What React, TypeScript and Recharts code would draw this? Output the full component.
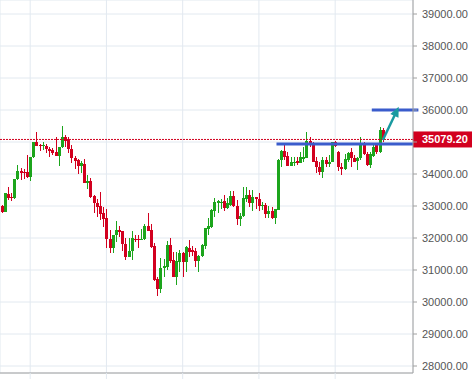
import { ComposedChart, Bar, XAxis, YAxis, CartesianGrid, ReferenceLine } from 'recharts'

const opens = [
  33000, 32820, 33380, 33290, 33240, 33830, 34090, 34070, 34070, 33900,
  34520, 35000, 34920, 34880, 34880, 34780, 34750, 34680, 34570, 34830,
  35150, 35070, 34770, 34500, 34440, 34260, 34320, 33730, 33780, 33310,
  33080, 33000, 32790, 32630, 31980, 31680, 32090, 32250, 32220, 31800,
  31420, 31580, 31970, 31970, 31940, 31970, 32370, 32250, 31750, 30720,
  30410, 31060, 31100, 31780, 31310, 30790, 31260, 31520, 31260, 31700,
  31630, 31590, 31290, 31440, 31750, 32280, 32350, 32850, 33090, 33100,
  33160, 32930, 33030, 33310, 33010, 32580, 32700, 33220, 33340, 33100,
  33270, 33210, 33000, 33030, 32740, 32850, 32610, 32880, 34440, 34730,
  34560, 34260, 34350, 34410, 34350, 34460, 34510, 35030, 34930, 34410,
  34230, 34050, 34440, 34300, 34380, 35010, 34680, 34230, 34160, 34440,
  34700, 34510, 34400, 34490, 34960, 34620, 34280, 34560, 34910, 34700,
  35380,
]
const highs = [
  33030, 33420, 33590, 33400, 33850, 34280, 34180, 34150, 34590, 34540,
  35010, 35310, 34940, 35000, 34940, 34850, 34820, 35150, 34840, 35500,
  35220, 35170, 34910, 34560, 34460, 34420, 34470, 33970, 33870, 33340,
  33210, 33450, 32980, 32910, 32250, 32100, 32530, 32380, 32230, 31990,
  31990, 32220, 32090, 32090, 32280, 32440, 32770, 32440, 31850, 30790,
  31370, 31330, 31910, 31990, 31570, 31570, 31630, 31570, 31750, 31940,
  31750, 31680, 31470, 31810, 32300, 32610, 32900, 33240, 33190, 33210,
  33340, 33240, 33470, 33470, 33190, 32770, 33600, 33600, 33500, 33500,
  33290, 33420, 33130, 33080, 33000, 32960, 32900, 34470, 34750, 34980,
  34700, 34540, 34520, 34540, 34700, 34850, 35300, 35170, 35010, 34540,
  34380, 34540, 34540, 34590, 35010, 35030, 34720, 34330, 34620, 34700,
  34800, 34590, 34540, 35170, 35010, 34700, 34700, 34960, 34930, 35480,
  35450,
]
const lows = [
  32790, 32800, 33190, 33170, 33230, 33820, 33810, 33840, 33870, 33790,
  34500, 34870, 34720, 34750, 34670, 34540, 34590, 34560, 34260, 34820,
  34850, 34650, 34350, 34150, 33990, 34020, 33720, 33530, 33240, 32790,
  32670, 32560, 32350, 31680, 31520, 31520, 31880, 32040, 31590, 31310,
  31410, 31310, 31880, 31700, 31930, 31940, 32220, 31680, 30660, 30200,
  30270, 30790, 31000, 31210, 30770, 30530, 30950, 30790, 30950, 31420,
  31440, 31100, 30950, 31400, 31660, 32090, 32300, 32670, 32790, 32900,
  32850, 32900, 33000, 32960, 32410, 32370, 32670, 33130, 32980, 32850,
  32900, 32850, 32880, 32610, 32610, 32580, 32430, 32860, 34230, 34440,
  34240, 34250, 34260, 34280, 34340, 34380, 34490, 34850, 34370, 34020,
  33970, 33880, 34230, 34230, 34370, 34850, 34090, 33970, 34130, 34390,
  34230, 34370, 34130, 34440, 34590, 34260, 34180, 34540, 34620, 34650,
  35010,
]
const closes = [
  32820, 33400, 33260, 33240, 33830, 34090, 34040, 34040, 33900, 34520,
  35000, 34890, 34860, 34910, 34770, 34730, 34670, 34570, 34830, 35150,
  35040, 34770, 34490, 34420, 34260, 34350, 33730, 33780, 33290, 33080,
  32980, 32750, 32590, 31960, 31680, 32090, 32260, 32200, 31800, 31420,
  31590, 31990, 31940, 31940, 31970, 32370, 32230, 31730, 30690, 30410,
  31070, 31120, 31780, 31290, 30790, 31290, 31520, 31260, 31710, 31570,
  31570, 31290, 31440, 31780, 32300, 32370, 32880, 33110, 33160, 33140,
  32930, 33100, 33310, 33010, 32580, 32700, 33240, 33340, 33100, 33270,
  33210, 33000, 33030, 32740, 32840, 32610, 32900, 34440, 34730, 34540,
  34260, 34380, 34380, 34330, 34520, 34520, 35030, 34930, 34380, 34210,
  34050, 34440, 34300, 34380, 34990, 34880, 34210, 34160, 34470, 34650,
  34490, 34380, 34510, 34960, 34620, 34280, 34620, 34850, 34700, 35380,
  35079.2,
]

const SLOTS = 130
const yTicks = [28000, 29000, 30000, 31000, 32000, 33000, 34000, 35000, 36000, 37000, 38000, 39000]
const xGridTicks = [9, 33, 57, 81, 105]
const lastPrice = 35079.2
const supportLevel = 34940
const targetLevel = 36000

const GREEN = '#1ca51c'
const RED = '#d2001f'
const BLUE = '#3a5ccc'
const TEAL = '#1a9aa0'
const GRID = '#e2e9f0'
const FONT = '"Liberation Sans", Arial, sans-serif'

const rows = Array.from({ length: SLOTS }, (_, i) =>
  i < opens.length
    ? { i, o: opens[i], h: highs[i], l: lows[i], c: closes[i] }
    : { i, o: null, h: null, l: null, c: null }
)

const Candle = (props: any) => {
  const { x, y, width, height, payload } = props
  if (payload == null || payload.h == null) return <g />
  const top = Math.min(y, y + height)
  const span = Math.abs(height)
  const k = payload.h === payload.l ? 0 : span / (payload.h - payload.l)
  const yO = top + (payload.h - payload.o) * k
  const yC = top + (payload.h - payload.c) * k
  const color = payload.c >= payload.o ? GREEN : RED
  const px = Math.round(x + width / 2)
  return (
    <g shapeRendering="crispEdges">
      <line x1={px + 0.5} x2={px + 0.5} y1={top} y2={top + span} stroke={color} strokeWidth={1} />
      <rect x={px - 1} y={Math.min(yO, yC)} width={3} height={Math.max(1, Math.abs(yC - yO))} fill={color} />
    </g>
  )
}

const YTick = (p: any) => {
  const v = p.payload.value
  // the last price tag sits on top of this one
  if (v === 35000) return <g />
  return (
    <text x={p.x} y={p.y} dy={4} fill="#555" fontSize={11} fontFamily={FONT} textAnchor="start">
      {v.toFixed(2)}
    </text>
  )
}

const NoLabel = () => <g />

const PriceTag = (props: any) => {
  const vb = props.viewBox
  if (!vb) return null
  const left = vb.x + vb.width
  return (
    <g>
      <rect x={left} y={vb.y - 8} width={59} height={16} fill={RED} />
      <text x={left + 9} y={vb.y + 4} fill="#fff" fontSize={11} fontWeight="bold" fontFamily={FONT}>
        {lastPrice.toFixed(2)}
      </text>
    </g>
  )
}

const LevelLine = (props: any) => (
  <line x1={props.x1 - 1.5} y1={props.y1} x2={props.x2 + 7} y2={props.y2} stroke={BLUE} strokeWidth={3} />
)

const Arrow = (props: any) => {
  const { x1, y1, x2, y2 } = props
  const dx = x2 - x1
  const dy = y2 - y1
  const len = Math.sqrt(dx * dx + dy * dy) || 1
  const ux = dx / len
  const uy = dy / len
  const head = 10
  const bx = x2 - ux * head
  const by = y2 - uy * head
  return (
    <g>
      <line x1={x1} y1={y1} x2={bx + ux * 2} y2={by + uy * 2} stroke={TEAL} strokeWidth={2.5} />
      <polygon
        points={`${x2},${y2} ${bx - uy * 4.5},${by + ux * 4.5} ${bx + uy * 4.5},${by - ux * 4.5}`}
        fill={TEAL}
      />
    </g>
  )
}

export default function App() {
  return (
    <div style={{ position: 'absolute', left: 0, top: 0, background: '#fff' }}>
      <ComposedChart
        width={472}
        height={379}
        data={rows}
        margin={{ top: 0, right: 0, left: 0, bottom: 0 }}
        barCategoryGap={0}
        barGap={0}
      >
        <CartesianGrid stroke={GRID} />
        <XAxis
          dataKey="i"
          type="category"
          ticks={xGridTicks}
          interval={0}
          height={6}
          tick={<NoLabel />}
          tickSize={6}
          tickLine={{ stroke: GRID }}
          axisLine={{ stroke: '#a0a0a0' }}
        />
        <YAxis
          orientation="right"
          width={59}
          domain={[27781.25, 39437.5]}
          allowDataOverflow
          ticks={yTicks}
          interval={0}
          tickSize={4}
          tickMargin={5}
          tick={<YTick />}
          tickLine={{ stroke: '#a0a0a0' }}
          axisLine={{ stroke: '#a0a0a0' }}
        />
        <Bar
          dataKey={(d: any) => (d.h == null ? null : [d.l, d.h])}
          shape={<Candle />}
          isAnimationActive={false}
        />
        <ReferenceLine
          segment={[{ x: 87, y: supportLevel }, { x: SLOTS - 1, y: supportLevel }]}
          shape={<LevelLine />}
        />
        <ReferenceLine
          segment={[{ x: 117, y: targetLevel }, { x: SLOTS - 1, y: targetLevel }]}
          shape={<LevelLine />}
        />
        <ReferenceLine
          y={lastPrice}
          stroke={RED}
          strokeDasharray="2 1"
          label={<PriceTag />}
        />
        <ReferenceLine
          segment={[{ x: 120, y: 35060 }, { x: 125, y: 36100 }]}
          shape={<Arrow />}
        />
      </ComposedChart>
    </div>
  )
}
